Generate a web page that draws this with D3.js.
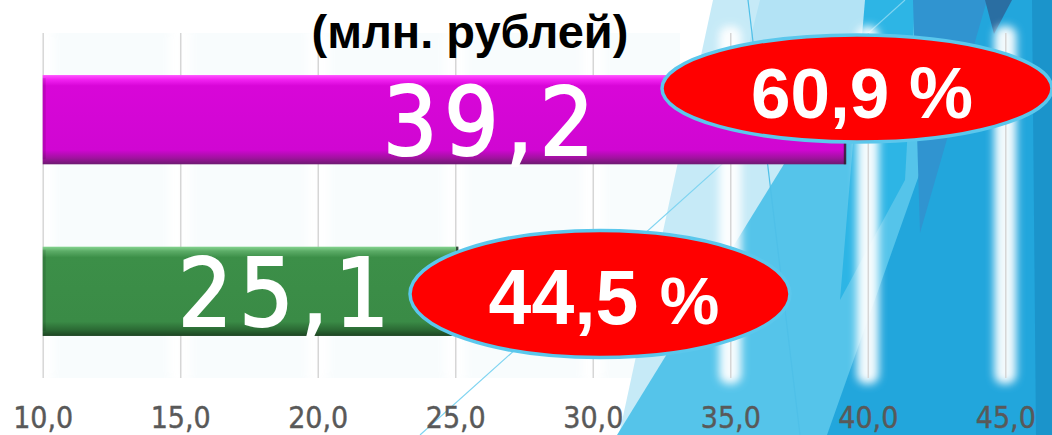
<!DOCTYPE html>
<html>
<head>
<meta charset="utf-8">
<script src="https://cdn.jsdelivr.net/npm/d3@7"></script>
<style>
  html, body { margin: 0; padding: 0; background: #ffffff; }
  svg { display: block; }
</style>
</head>
<body>
<svg id="chart" width="1052" height="435"></svg>
<script>
// Data -------------------------------------------------------------------------------

var categories = ["Категория 1", "Категория 2"];   // top to bottom
var values = [39.2, 25.1];
var shares = [60.9, 44.5];
var tickValues = [10, 15, 20, 25, 30, 35, 40, 45];
var title = "(млн. рублей)";

// Layout -----------------------------------------------------------------------------

var W = 1052, H = 435;
var plotTop = 33, plotBottom = 378;
var barColors = [
    ["#ff55ff", "#f222f2", "#d806d8", "#d006d2", "#a0129f", "#6c1a70"],
    ["#84d48f", "#5cac67", "#3c8f48", "#3a8b46", "#2b6a34", "#1d4422"]
];
var labelStart = [383, 178];
var ellipses = [
    { cx: 857, cy: 88.5, rx: 195, ry: 53.5, big: 71, small: 72, tx: 862, ty: 118 },
    { cx: 600, cy: 294, rx: 190, ry: 63.5, big: 77, small: 67, tx: 604, ty: 324 }
];

var locale = d3.formatLocale({ decimal: ",", thousands: " ", grouping: [3], currency: ["", ""] });
var fmt = locale.format(".1f");

var svg = d3.select("#chart");
var defs = svg.append("defs");

// Background -------------------------------------------------------------------------

var bg = svg.append("g");
bg.append("rect").attr("width", W).attr("height", H).attr("fill", "#ffffff");
bg.append("rect").attr("x", 40).attr("y", plotTop).attr("width", 640).attr("height", plotBottom - plotTop)
    .attr("fill", "#f6fbfd").attr("opacity", 0.8);

var polys = [
    { fill: "#c6eaf7", pts: [[713, 0], [1052, 0], [1052, 435], [619, 435]] },
    { fill: "#b3e3f5", pts: [[760, 0], [885, 0], [800, 120], [745, 60]] },
    { fill: "#55c4ea", pts: [[885, 0], [1052, 0], [1052, 435], [617, 435]] },
    { fill: "#2db5e5", pts: [[865, 0], [915, 0], [905, 180], [840, 300]] },
    { fill: "#22a6dc", pts: [[981, 0], [1052, 0], [1052, 435], [827, 435]] },
    { fill: "#3094d0", pts: [[913, 0], [987, 0], [920, 233]] },
    { fill: "#2a6ea2", pts: [[985, 0], [1012, 0], [994, 34]] },
    { fill: "#1b94cb", pts: [[1032, 0], [1052, 0], [1052, 435], [1036, 435]] }
];
bg.selectAll("polygon").data(polys).enter().append("polygon")
    .attr("points", function (d) { return d.pts.map(function (p) { return p.join(","); }).join(" "); })
    .attr("fill", function (d) { return d.fill; });

bg.append("line").attr("x1", 420).attr("y1", 435).attr("x2", 905).attr("y2", 0)
    .attr("stroke", "#7fd4f1").attr("stroke-width", 1.2);
bg.append("line").attr("x1", 748).attr("y1", 0).attr("x2", 800).attr("y2", 435)
    .attr("stroke", "#4fc0e8").attr("stroke-width", 1.2);

// Scales -----------------------------------------------------------------------------

var x = d3.scaleLinear().domain([10, 45]).range([42.7, 1005.3]);
var y = d3.scaleBand().domain(categories).range([plotTop, plotBottom])
    .paddingInner(0.48).paddingOuter(0.245);

// Glow round the gridlines
var blur = defs.append("filter").attr("id", "glow").attr("x", "-60%").attr("y", "-10%")
    .attr("width", "220%").attr("height", "120%");
blur.append("feGaussianBlur").attr("stdDeviation", 4);

svg.append("g").selectAll("rect").data(tickValues).enter().append("rect")
    .attr("x", function (d) { return x(d) - 11; })
    .attr("y", plotTop - 7)
    .attr("width", 22)
    .attr("height", plotBottom - plotTop + 13)
    .attr("rx", 9)
    .attr("fill", "#ffffff")
    .attr("opacity", 0.95)
    .attr("filter", "url(#glow)");

// Axis + gridlines
var axis = d3.axisBottom(x)
    .tickValues(tickValues)
    .tickFormat(fmt)
    .tickSize(-(plotBottom - plotTop))
    .tickPadding(28.7);

var gAxis = svg.append("g").attr("transform", "translate(0," + plotBottom + ")").call(axis);
gAxis.select(".domain").remove();
gAxis.selectAll(".tick line").attr("stroke", "#d6d6d6").attr("stroke-width", 1.5);
gAxis.selectAll(".tick text")
    .attr("fill", "#595959")
    .attr("stroke", "#595959")
    .attr("stroke-width", 0.4)
    .style("font-family", "'DejaVu Sans Condensed', 'DejaVu Sans', sans-serif")
    .style("font-size", "30px");

// Bars -------------------------------------------------------------------------------

barColors.forEach(function (c, i) {
    var g = defs.append("linearGradient").attr("id", "bar" + i)
        .attr("x1", 0).attr("y1", 0).attr("x2", 0).attr("y2", 1);
    [0, 0.05, 0.12, 0.84, 0.93, 1].forEach(function (o, k) {
        g.append("stop").attr("offset", o).attr("stop-color", c[k]);
    });
});

var bars = svg.append("g").selectAll("g").data(values).enter().append("g");

bars.append("rect")
    .attr("x", x(10))
    .attr("y", function (d, i) { return y(categories[i]); })
    .attr("width", function (d) { return x(d) - x(10); })
    .attr("height", y.bandwidth())
    .attr("fill", function (d, i) { return "url(#bar" + i + ")"; });

// left bevel and dark right end
bars.append("rect")
    .attr("x", x(10))
    .attr("y", function (d, i) { return y(categories[i]) + 3; })
    .attr("width", 3)
    .attr("height", y.bandwidth() - 8)
    .attr("fill", "#000000").attr("opacity", 0.12);
bars.append("rect")
    .attr("x", function (d) { return x(d) - 2; })
    .attr("y", function (d, i) { return y(categories[i]); })
    .attr("width", 2.5)
    .attr("height", y.bandwidth())
    .attr("fill", "#222222").attr("opacity", 0.75);

bars.append("text")
    .attr("x", function (d, i) { return labelStart[i]; })
    .attr("y", function (d, i) { return y(categories[i]) + y.bandwidth() / 2 + 35; })
    .attr("fill", "#ffffff")
    .attr("stroke", "#ffffff")
    .attr("stroke-width", 2.2)
    .style("font-family", "'DejaVu Sans Condensed', 'DejaVu Sans', sans-serif")
    .style("font-size", "95px")
    .style("letter-spacing", "7px")
    .text(function (d) { return fmt(d); });

// Share ellipses ---------------------------------------------------------------------

var bub = svg.append("g").selectAll("g").data(shares).enter().append("g");

bub.append("ellipse")
    .attr("cx", function (d, i) { return ellipses[i].cx; })
    .attr("cy", function (d, i) { return ellipses[i].cy; })
    .attr("rx", function (d, i) { return ellipses[i].rx; })
    .attr("ry", function (d, i) { return ellipses[i].ry; })
    .attr("fill", "#ff0000")
    .attr("stroke", "#5bc7ec")
    .attr("stroke-width", 3.5);

var shareText = bub.append("text")
    .attr("x", function (d, i) { return ellipses[i].tx; })
    .attr("y", function (d, i) { return ellipses[i].ty; })
    .attr("text-anchor", "middle")
    .attr("fill", "#ffffff")
    .style("font-family", "'Liberation Sans', Arial, sans-serif")
    .style("font-weight", "bold");

shareText.append("tspan")
    .style("font-size", function (d, i) { return ellipses[i].big + "px"; })
    .text(function (d) { return fmt(d) + " "; });
shareText.append("tspan")
    .style("font-size", function (d, i) { return ellipses[i].small + "px"; })
    .text("%");

// Title ------------------------------------------------------------------------------

svg.append("text")
    .attr("x", 470)
    .attr("y", 48)
    .attr("text-anchor", "middle")
    .attr("fill", "#000000")
    .style("font-family", "'Liberation Sans', Arial, sans-serif")
    .style("font-weight", "bold")
    .style("font-size", "47px")
    .text(title);
</script>
</body>
</html>
